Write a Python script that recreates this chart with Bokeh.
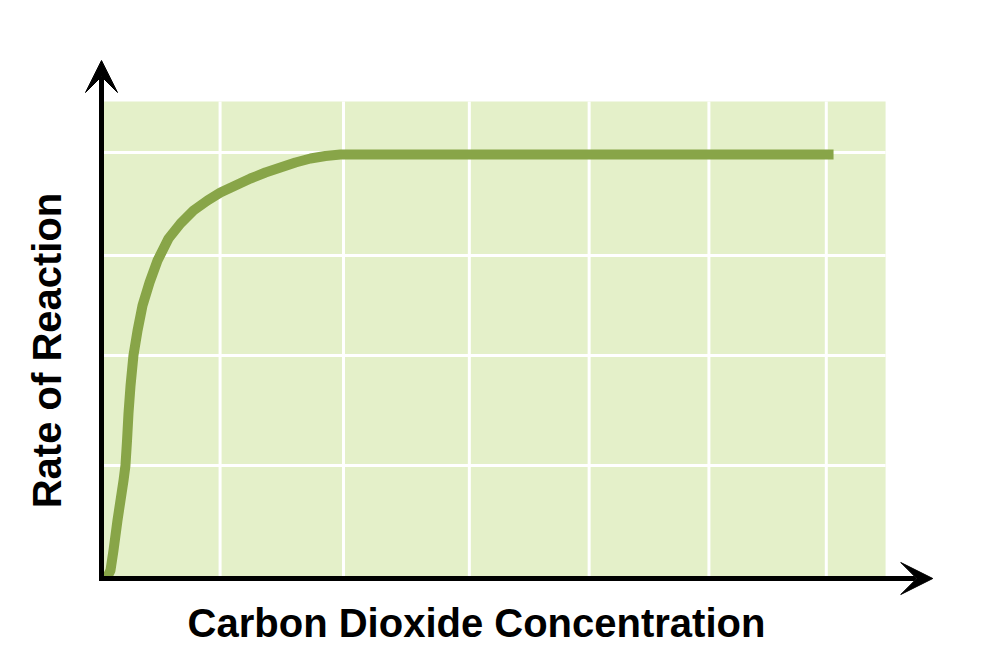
import math
from bokeh.plotting import figure
from bokeh.models import Arrow, VeeHead, Range1d, ColumnDataSource, Label
from bokeh.embed import file_html
from bokeh.resources import INLINE

# ---- data ----
curve_x = [0.041, 0.074, 0.099, 0.132, 0.157, 0.182, 0.198, 0.211, 0.223, 0.240,
           0.264, 0.298, 0.339, 0.397, 0.463, 0.554, 0.653, 0.760, 0.876, 0.983,
           1.107, 1.231, 1.355, 1.479, 1.603, 1.727, 1.851, 1.975, 2.14, 6.05]
curve_y = [0.0, 0.08, 0.28, 0.58, 0.78, 0.98, 1.13, 1.38, 1.65, 1.93,
           2.23, 2.48, 2.73, 2.96, 3.18, 3.40, 3.55, 3.68, 3.78, 3.86,
           3.93, 4.00, 4.06, 4.11, 4.16, 4.20, 4.225, 4.24, 4.24, 4.24]
x_grid = [0.98, 2.0, 3.04, 4.03, 5.02, 5.99]
y_grid = [1.13, 2.23, 3.23, 4.26]
area_right = 6.48
area_top = 4.77
x_arrow_end = 6.87
y_arrow_end = 5.18
x_label = "Carbon Dioxide Concentration"
y_label = "Rate of Reaction"

W, H = 976, 646
# frame fills the whole canvas; origin at (101, 578), 121 px per x unit, 100 px per y unit
p = figure(width=W, height=H, output_backend="svg", toolbar_location=None,
           x_range=Range1d(-101 / 121, (W - 101) / 121),
           y_range=Range1d(-(H - 578) / 100, 578 / 100),
           x_axis_location=None, y_axis_location=None,
           min_border_left=0, min_border_right=0, min_border_top=0,
           min_border_bottom=0)
p.outline_line_color = None
p.background_fill_color = "white"
p.border_fill_color = "white"
p.xgrid.visible = False
p.ygrid.visible = False

# green plotting area
p.quad(left=[0], right=[area_right], bottom=[0], top=[area_top],
       fill_color="#e4f0c9", line_color=None)

# white grid lines
p.segment(x0=x_grid, x1=x_grid, y0=[0] * len(x_grid), y1=[area_top] * len(x_grid),
          line_color="white", line_width=3)
p.segment(x0=[0] * len(y_grid), x1=[area_right] * len(y_grid), y0=y_grid, y1=y_grid,
          line_color="white", line_width=3)

# curve
src = ColumnDataSource(dict(x=curve_x, y=curve_y))
p.line("x", "y", source=src, line_color="#88a548", line_width=10,
       line_cap="butt", line_join="round")

# axes with arrows
p.add_layout(Arrow(x_start=-0.02, y_start=0, x_end=x_arrow_end, y_end=0,
                   line_color="black", line_width=5,
                   end=VeeHead(size=32, fill_color="black", line_color="black", line_width=1)))
p.add_layout(Arrow(x_start=0, y_start=-0.025, x_end=0, y_end=y_arrow_end,
                   line_color="black", line_width=5,
                   end=VeeHead(size=32, fill_color="black", line_color="black", line_width=1)))

# axis titles
lab_style = dict(text_font="Liberation Sans", text_font_style="bold",
                 text_font_size="40px", text_color="black",
                 x_units="screen", y_units="screen")
p.add_layout(Label(x=476, y=24, text=x_label, text_align="center",
                   text_baseline="alphabetic", **lab_style))
p.add_layout(Label(x=46, y=H - 350, text=y_label, text_align="center",
                   text_baseline="alphabetic", angle=math.pi / 2, **lab_style))

open("out.html", "w").write(file_html(p, INLINE))
